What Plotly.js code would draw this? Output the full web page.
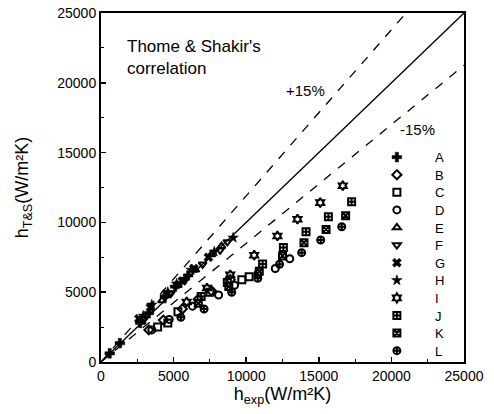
<!DOCTYPE html>
<html>
<head>
<meta charset="utf-8">
<script src="https://cdn.plot.ly/plotly-3.0.1.min.js"></script>
<style>html,body{margin:0;padding:0;background:#fff;}#chart{width:494px;height:414px;}</style>
</head>
<body>
<div id="chart"></div>
<script>
// ---- data ----
const seriesNames = ["A","B","C","D","E","F","G","H","I","J","K","L"];
const symbols = ["cross","diamond-open","square-open","circle-open","triangle-up-open","triangle-down-open","x","star","hexagram-open","square-cross-open","square-x-open","circle-cross-open"];

const A_x = [600, 1300, 2700, 3300, 4400, 5100, 6000];
const A_y = [620, 1350, 2800, 3500, 4700, 5400, 6200];
const B_x = [3300, 4300, 5600, 6700, 7600, 8900];
const B_y = [2300, 3000, 3800, 4500, 5100, 5900];
const C_x = [3900, 4600, 5300, 7500, 9700, 10200];
const C_y = [2500, 2800, 3600, 5000, 5900, 6100];
const D_x = [3500, 4700, 6300, 8100, 9200, 10800, 12000, 13000];
const D_y = [2300, 3050, 4000, 4800, 5500, 6300, 6700, 7400];
const E_x = [2800, 4200, 5300, 6500, 7600, 8300];
const E_y = [2900, 4400, 5500, 6600, 7700, 8300];
const F_x = [3000, 4800, 5800, 7000, 8200, 8700];
const F_y = [3100, 4900, 5900, 7000, 8000, 8600];
const G_x = [2600, 3400, 4500, 5600, 6400, 7400];
const G_y = [3100, 3900, 4900, 5800, 6700, 7500];
const H_x = [2900, 3500, 4600, 5200, 6200, 7800, 9100];
const H_y = [3300, 4100, 5000, 5600, 6600, 7900, 8900];
const I_x = [5900, 7300, 8900, 10550, 12150, 13530, 15100, 16650];
const I_y = [4300, 5300, 6250, 7650, 9030, 10230, 11420, 12630];
const J_x = [6900, 8700, 11130, 12560, 14120, 15660, 17260];
const J_y = [4700, 5700, 7020, 8210, 9330, 10410, 11480];
const K_x = [6700, 8800, 10900, 12500, 13980, 15500, 16850];
const K_y = [4200, 5400, 6500, 7600, 8550, 9500, 10480];
const L_x = [5500, 7100, 9000, 10800, 12300, 13820, 15130, 16580];
const L_y = [3200, 3800, 5000, 6000, 7000, 7830, 8740, 9690];

const seriesX = [A_x,B_x,C_x,D_x,E_x,F_x,G_x,H_x,I_x,J_x,K_x,L_x];
const seriesY = [A_y,B_y,C_y,D_y,E_y,F_y,G_y,H_y,I_y,J_y,K_y,L_y];

const refLineX = [0, 25000];
const ratioPerfect = 1.0;
const ratioUpper = 1.19;
const ratioLower = 0.85;

const tickVals = [0, 5000, 10000, 15000, 20000, 25000];
const tickText = ["0","5000","10000","15000","20000","25000"];

// ---- traces ----
const font = "Liberation Sans, Arial, sans-serif";
const traces = [];
function refLine(r, dash){
  return {x: refLineX, y: refLineX.map(v => v*r), mode: "lines",
    line: {color: "#000", width: 1.3, dash: dash}, showlegend: false, hoverinfo: "skip"};
}
traces.push(refLine(ratioPerfect, "solid"));
traces.push(refLine(ratioUpper, "dash"));
traces.push(refLine(ratioLower, "dash"));

seriesNames.forEach((n, i) => {
  const filled = !symbols[i].includes("open");
  traces.push({
    x: seriesX[i], y: seriesY[i], mode: "markers", type: "scatter",
    name: "\u00a0\u00a0\u00a0\u00a0\u00a0" + n,
    marker: {symbol: symbols[i], size: filled ? 8 : 7, color: "#000",
      line: {color: "#000", width: filled ? 0.5 : 2}}
  });
});

const axisBase = {
  range: [0, 25000], showgrid: false, zeroline: false,
  showline: true, linecolor: "#000", linewidth: 2, mirror: true,
  ticks: "inside", ticklen: 5, tickwidth: 1.5, tickcolor: "#000",
  tickvals: tickVals, ticktext: tickText,
  tickfont: {family: font, size: 14, color: "#000"},
  minor: {ticks: "inside", ticklen: 3, tickwidth: 1, tickcolor: "#000", dtick: 2500, showgrid: false}
};

const layout = {
  width: 494, height: 414,
  margin: {l: 101, r: 30, t: 13, b: 52},
  paper_bgcolor: "#fff", plot_bgcolor: "#fff",
  font: {family: font, color: "#000"},
  xaxis: Object.assign({}, axisBase, {
    title: {text: "h<sub>exp</sub>(W/m²K)", font: {family: font, size: 18, color: "#000"}, standoff: 3}
  }),
  yaxis: Object.assign({}, axisBase, {
    title: {text: "h<sub>T&amp;S</sub>(W/m²K)", font: {family: font, size: 18, color: "#000"}, standoff: 24}
  }),
  showlegend: true,
  legend: {x: 0.76, y: 0.63, xanchor: "left", yanchor: "top", bgcolor: "rgba(0,0,0,0)",
    font: {family: font, size: 13, color: "#000"}, itemclick: false},
  annotations: [
    {x: 1650, y: 23400, xref: "x", yref: "y", xanchor: "left", yanchor: "top", align: "left",
     text: "Thome &amp; Shakir's<br>correlation", showarrow: false,
     font: {family: font, size: 17, color: "#000"}},
    {x: 14050, y: 19460, xref: "x", yref: "y", text: "+15%", showarrow: false,
     font: {family: font, size: 15, color: "#000"}},
    {x: 21830, y: 16620, xref: "x", yref: "y", text: "-15%", showarrow: false,
     font: {family: font, size: 15, color: "#000"}}
  ]
};

Plotly.newPlot("chart", traces, layout, {displayModeBar: false, staticPlot: true}).then(gd => {
  // tighten legend row spacing to match the reference
  const rowGap = 17.6;
  const items = gd.querySelectorAll(".legend .traces");
  let y0 = null;
  items.forEach((g, i) => {
    const t = g.getAttribute("transform") || "";
    const m = /translate\(\s*([-\d.e]+)[ ,]+([-\d.e]+)\s*\)/.exec(t);
    if (!m) return;
    if (y0 === null) { y0 = parseFloat(m[2]); }
    g.setAttribute("transform", "translate(" + m[1] + "," + (y0 + i * rowGap) + ")");
  });
});
</script>
</body>
</html>
